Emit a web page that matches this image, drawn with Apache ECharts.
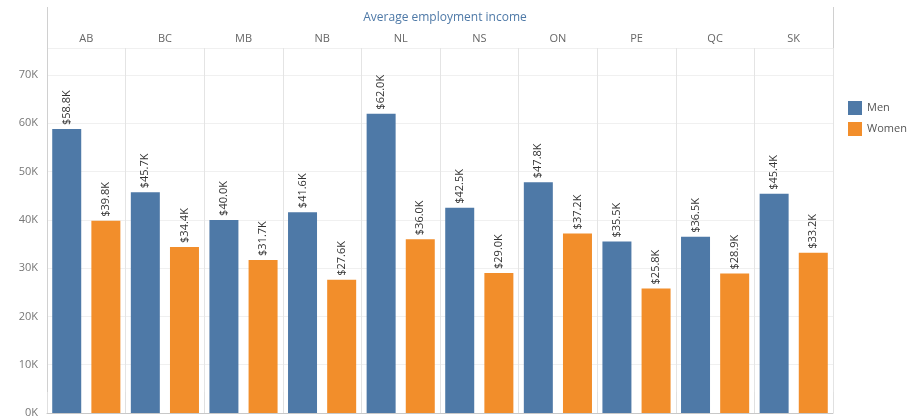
<!DOCTYPE html>
<html>
<head>
<meta charset="utf-8">
<script src="https://cdn.jsdelivr.net/npm/echarts@6/dist/echarts.min.js"></script>
<style>
html,body{margin:0;padding:0;background:#fff;}
#c{width:914px;height:419px;}
</style>
</head>
<body>
<div id="c"></div>
<script>
var provinces = ['AB','BC','MB','NB','NL','NS','ON','PE','QC','SK'];
var men = [58.8, 45.7, 40.0, 41.6, 62.0, 42.5, 47.8, 35.5, 36.5, 45.4];
var women = [39.8, 34.4, 31.7, 27.6, 36.0, 29.0, 37.2, 25.8, 28.9, 33.2];
var seriesNames = ['Men','Women'];
var colors = ['#4e79a7','#f28e2b'];

var FONT = 'Open Sans';
var chart = echarts.init(document.getElementById('c'), null, {renderer:'canvas'});
function lbl(){
  return {
    show:true, position:'top', rotate:90, align:'left', verticalAlign:'middle',
    distance:4, color:'#333', fontSize:11, fontFamily:FONT,
    formatter:function(p){return '$'+p.value.toFixed(1)+'K';}
  };
}
chart.setOption({
  animation:false,
  textStyle:{fontFamily:FONT},
  title:{text:'Average employment income', left:440, top:7, textAlign:'center',
    textStyle:{color:'#4e79a7', fontSize:12, fontWeight:'normal', fontFamily:FONT}},
  legend:{
    orient:'vertical', left:843, top:96, itemWidth:14, itemHeight:14, itemGap:7,
    icon:'rect', textStyle:{color:'#555', fontSize:11, fontFamily:FONT},
    data:seriesNames
  },
  grid:{left:47, right:81, top:48, bottom:6, containLabel:false},
  xAxis:{
    type:'category', position:'top', data:provinces,
    axisLine:{show:true, lineStyle:{color:'#c8c8c8'}},
    axisTick:{show:true, length:21, lineStyle:{color:'#e0e0e0'}},
    axisLabel:{color:'#666', fontSize:11, margin:4, fontFamily:FONT},
    splitLine:{show:true, lineStyle:{color:'#e4e4e4'}}
  },
  yAxis:{
    type:'value', min:0, max:75.6, interval:10,
    axisLine:{show:true, lineStyle:{color:'#d0d0d0'}},
    axisTick:{show:false},
    axisLabel:{color:'#777', fontSize:11, margin:9, fontFamily:FONT,
      formatter:function(v){return (Math.abs(v%10)<1e-6)? (v+'K') : '';}},
    splitLine:{show:true, lineStyle:{color:'#f0f0f0'}}
  },
  graphic:[
    {type:'line', shape:{x1:47.5,y1:7,x2:47.5,y2:48}, style:{stroke:'#d0d0d0', lineWidth:1}},
    {type:'line', shape:{x1:833.5,y1:7,x2:833.5,y2:48}, style:{stroke:'#d0d0d0', lineWidth:1}}
  ],
  series:[
    {name:seriesNames[0], type:'bar', data:men, itemStyle:{color:colors[0]},
      barWidth:29, barGap:'35%', label:lbl()},
    {name:seriesNames[1], type:'bar', data:women, itemStyle:{color:colors[1]},
      barWidth:29, label:lbl()}
  ]
});
</script>
</body>
</html>
